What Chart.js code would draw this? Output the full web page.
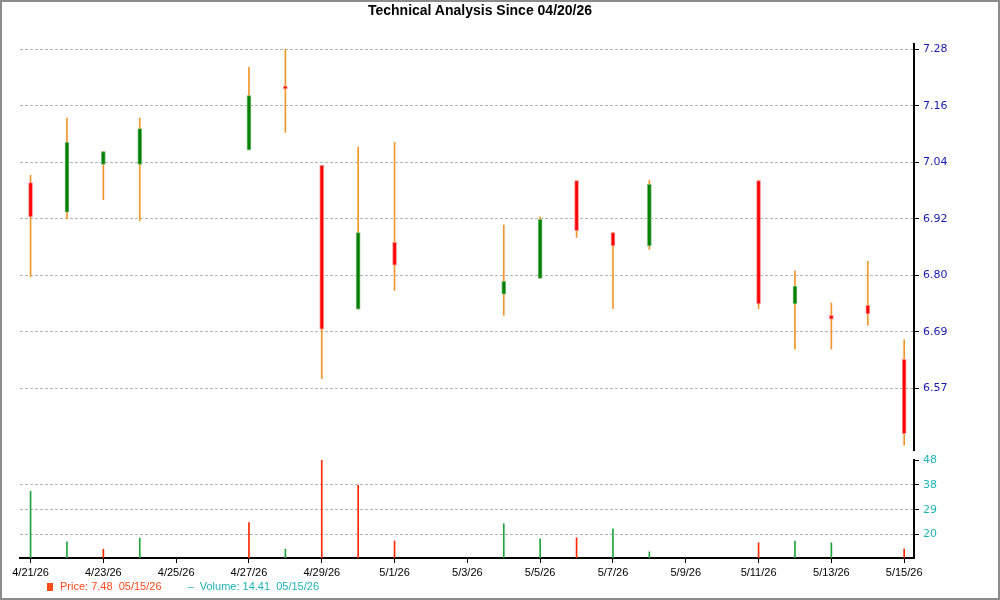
<!DOCTYPE html>
<html>
<head>
<meta charset="utf-8">
<script src="https://cdn.jsdelivr.net/npm/chart.js@4.4.1/dist/chart.umd.min.js"></script>
<style>
  html, body { margin: 0; padding: 0; background: #fff; }
  #wrap { position: relative; width: 1000px; height: 600px; overflow: hidden; }
  #wrap canvas { position: absolute; left: 0; top: 0; }
  #frame { position: absolute; left: 0; top: 0; width: 1000px; height: 600px;
           box-sizing: border-box; border: 2px solid #8c8c8c; pointer-events: none; }
  #title { position: absolute; left: 0; width: 960px; top: 2px; text-align: center;
           font: bold 14px "Liberation Sans", Arial, sans-serif; color: #000; }
  #legend { position: absolute; left: 47px; top: 580px; white-space: pre;
            font: 11px "Liberation Sans", Arial, sans-serif; }
  .price { color: #ff4a1c; }
  .vol { color: #1fb3b8; margin-left: 26px; }
  .mark { display: inline-block; width: 6px; height: 8px; background: #ff4a1c; margin-right: 7px; vertical-align: -1px; }
</style>
</head>
<body>
<div id="wrap">
  <canvas id="priceChart" width="1000" height="600"></canvas>
  <canvas id="volumeChart" width="1000" height="600"></canvas>
  <div id="title">Technical Analysis Since 04/20/26</div>
  <div id="legend"><span class="price"><span class="mark"></span>Price: 7.48  05/15/26</span><span class="vol">–  Volume: 14.41  05/15/26</span></div>
  <div id="frame"></div>
</div>
<script>
// ================= DATA =================
const tradeDates = ["2026-04-21", "2026-04-22", "2026-04-23", "2026-04-24", "2026-04-27",
  "2026-04-28", "2026-04-29", "2026-04-30", "2026-05-01", "2026-05-04", "2026-05-05",
  "2026-05-06", "2026-05-07", "2026-05-08", "2026-05-11", "2026-05-12", "2026-05-13",
  "2026-05-14", "2026-05-15"];

const openPrices  = [7.001, 6.939, 7.039, 7.039, 7.069, 7.203, 7.037, 6.736, 6.876, 6.767,
  6.800, 7.005, 6.896, 6.868, 7.005, 6.747, 6.723, 6.744, 6.631];
const closePrices = [6.929, 7.085, 7.066, 7.114, 7.183, 7.197, 6.694, 6.896, 6.828, 6.794,
  6.924, 6.900, 6.868, 6.997, 6.747, 6.784, 6.715, 6.726, 6.475];
const highPrices  = [7.016, 7.136, 7.066, 7.136, 7.242, 7.280, 7.037, 7.075, 7.085, 6.912,
  6.929, 7.005, 6.896, 7.006, 7.005, 6.816, 6.749, 6.836, 6.672];
const lowPrices   = [6.804, 6.925, 6.965, 6.921, 7.069, 7.106, 6.590, 6.736, 6.775, 6.723,
  6.800, 6.886, 6.737, 6.861, 6.737, 6.652, 6.652, 6.702, 6.451];

const volumes  = [36.2, 17.3, 14.5, 18.7, 24.5, 14.5, 48.0, 38.5, 17.6, 24.1,
  18.4, 18.8, 22.2, 13.5, 16.9, 17.6, 16.9, 11.0, 14.6];
const volumeUp = [true, true, false, true, false, true, false, false, false, true,
  true, false, true, true, false, true, true, false, false];

const dateTickLabels = ["4/21/26", "4/23/26", "4/25/26", "4/27/26", "4/29/26", "5/1/26",
  "5/3/26", "5/5/26", "5/7/26", "5/9/26", "5/11/26", "5/13/26", "5/15/26"];
const priceTickLabels  = ["6.57", "6.69", "6.80", "6.92", "7.04", "7.16", "7.28"];
const volumeTickLabels = ["20", "29", "38", "48"];

// ================= HELPERS =================
const DAY = 86400000;
const startTime = Date.parse(tradeDates[0] + "T00:00:00Z");

function dayOffset(iso) {
  return (Date.parse(iso + "T00:00:00Z") - startTime) / DAY;
}

function tickDayOffset(label) {
  const [m, d, y] = label.split("/").map(Number);
  return (Date.UTC(2000 + y, m - 1, d) - startTime) / DAY;
}

// labels are rounded, so spread them evenly between first and last
function evenTicks(labels) {
  const lo = Number(labels[0]);
  const hi = Number(labels[labels.length - 1]);
  const step = (hi - lo) / (labels.length - 1);
  return labels.map((l, i) => ({ value: lo + i * step, label: l }));
}

const xs = tradeDates.map(dayOffset);
const X_MIN = -0.29, X_MAX = 24.27;

const UP = "#008000", DOWN = "#ff0000";
const bodyColors  = openPrices.map((o, i) => closePrices[i] >= o ? UP : DOWN);
const bodyBorders = openPrices.map((o, i) => closePrices[i] >= o ? "#74b874" : "#ff8c8c");

const labelFont = { family: "'DejaVu Sans', Verdana, sans-serif", size: 11 };
const gridColor = "#b4b4b4";

// ================= PRICE CHART =================
new Chart(document.getElementById("priceChart"), {
  type: "bar",
  data: {
    datasets: [
      {
        label: "Body",
        data: xs.map((x, i) => ({ x, y: [openPrices[i], closePrices[i]] })),
        backgroundColor: bodyColors,
        borderColor: bodyBorders,
        borderWidth: 1,
        borderSkipped: false,
        barThickness: 4,
        grouped: false,
        order: 0,
      },
      {
        label: "Wick",
        data: xs.map((x, i) => ({ x, y: [lowPrices[i], highPrices[i]] })),
        backgroundColor: "#f0962a",
        borderWidth: 0,
        barThickness: 1,
        grouped: false,
        order: 1,
      },
    ],
  },
  options: {
    responsive: false,
    animation: false,
    layout: { padding: { left: 20, top: 44, right: 0, bottom: 150 } },
    plugins: { legend: { display: false }, tooltip: { enabled: false } },
    scales: {
      x: { type: "linear", min: X_MIN, max: X_MAX, offset: false, display: false },
      y: {
        position: "right",
        min: 6.441,
        max: 7.291,
        afterBuildTicks: (scale) => { scale.ticks = evenTicks(priceTickLabels); },
        afterFit: (scale) => { scale.width = 86; },
        ticks: {
          color: "#1a1ab0",
          font: labelFont,
          padding: 4,
          callback: (v, i) => priceTickLabels[i],
        },
        grid: { color: gridColor, tickColor: "#000", tickLength: 5, lineWidth: 1 },
        border: { color: "#000", width: 2, dash: [3, 2] },
      },
    },
  },
});

// ================= VOLUME CHART =================
new Chart(document.getElementById("volumeChart"), {
  type: "bar",
  data: {
    datasets: [
      {
        label: "Volume",
        data: xs.map((x, i) => ({ x, y: volumes[i] })),
        backgroundColor: volumeUp.map(u => u ? "#1fa43c" : "#ff2a00"),
        borderWidth: 0,
        barThickness: 1,
      },
    ],
  },
  options: {
    responsive: false,
    animation: false,
    layout: { padding: { left: 20, top: 460, right: 0, bottom: 20 } },
    plugins: { legend: { display: false }, tooltip: { enabled: false } },
    scales: {
      x: {
        type: "linear",
        min: X_MIN,
        max: X_MAX,
        offset: false,
        afterBuildTicks: (scale) => {
          scale.ticks = dateTickLabels.map(l => ({ value: tickDayOffset(l), label: l }));
        },
        afterFit: (scale) => { scale.height = 22; },
        ticks: {
          color: "#000",
          font: { family: "'Liberation Sans', Arial, sans-serif", size: 11 },
          padding: 3,
          maxRotation: 0,
          autoSkip: false,
          callback: (v, i) => dateTickLabels[i],
        },
        grid: { offset: false, drawOnChartArea: false, tickColor: "#000", tickLength: 5 },
        border: { color: "#000", width: 2 },
      },
      y: {
        position: "right",
        min: 11.2,
        max: 48,
        afterBuildTicks: (scale) => { scale.ticks = evenTicks(volumeTickLabels); },
        afterFit: (scale) => { scale.width = 86; },
        ticks: {
          color: "#1fb3b8",
          font: labelFont,
          padding: 4,
          callback: (v, i) => volumeTickLabels[i],
        },
        grid: {
          color: (ctx) => ctx.index === volumeTickLabels.length - 1 ? "rgba(0,0,0,0)" : gridColor,
          tickColor: "#000",
          tickLength: 5,
        },
        border: { color: "#000", width: 2, dash: [3, 2] },
      },
    },
  },
});
</script>
</body>
</html>
